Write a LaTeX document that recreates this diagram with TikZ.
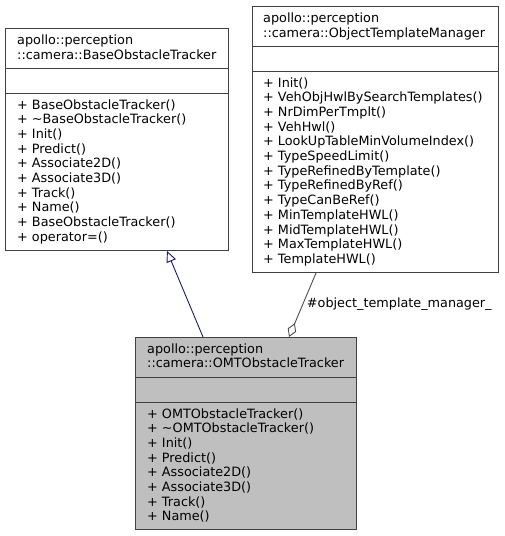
\documentclass[tikz,border=0pt]{standalone}
\usepackage{fontspec}
\setmainfont{DejaVu Sans}
\usetikzlibrary{arrows.meta}

\begin{document}
\begin{tikzpicture}[x=1pt, y=-1pt,
    umlbox/.style={draw=black!75, line width=1pt, anchor=north west, inner sep=0pt},
    members/.style={anchor=base west, align=left, inner sep=0pt,
        font=\fontsize{12.8}{14.7}\selectfont},
    inherit/.style={draw={rgb,255:red,25;green,25;blue,112}, line width=0.9pt,
        -{Triangle[open, length=11pt, width=10pt, fill=white]}},
    aggregate/.style={draw=black!70, line width=0.9pt,
        {Diamond[open, length=15pt, width=9pt, fill=white]}-}]
    \useasboundingbox (0,0) rectangle (504,536);
    % classes
    \node[umlbox, minimum width=223pt, minimum height=222pt] (base) at (5,28) {};
    \node[umlbox, minimum width=246pt, minimum height=266pt] (tpl) at (252,6) {};
    \node[umlbox, minimum width=221pt, minimum height=192pt, fill=black!25] (omt) at (135,337) {};
    \foreach \cls in {base, tpl, omt} {
        \draw[black!75, line width=1pt] ([yshift=-40pt]\cls.north west) -- ([yshift=-40pt]\cls.north east);
        \draw[black!75, line width=1pt] ([yshift=-65pt]\cls.north west) -- ([yshift=-65pt]\cls.north east);
    }
    % names (anchored at the last baseline)
    \node[members] (base name) at ([xshift=12pt, yshift=-31.2pt]base.north west)
        {apollo::perception\\::camera::BaseObstacleTracker};
    \node[members] (tpl name) at ([xshift=11pt, yshift=-31.2pt]tpl.north west)
        {apollo::perception\\::camera::ObjectTemplateManager};
    \node[members] (omt name) at ([xshift=12pt, yshift=-30.7pt]omt.north west)
        {apollo::perception\\::camera::OMTObstacleTracker};
    % methods
    \node[members] (base ops) at ([xshift=12pt, yshift=-213.3pt]base.north west)
        {+ BaseObstacleTracker()\\+ \textasciitilde BaseObstacleTracker()\\+ Init()\\+ Predict()\\
         + Associate2D()\\+ Associate3D()\\+ Track()\\+ Name()\\+ BaseObstacleTracker()\\+ operator=()};
    \node[members] (tpl ops) at ([xshift=11pt, yshift=-257.4pt]tpl.north west)
        {+ Init()\\+ VehObjHwlBySearchTemplates()\\+ NrDimPerTmplt()\\+ VehHwl()\\
         + LookUpTableMinVolumeIndex()\\+ TypeSpeedLimit()\\+ TypeRefinedByTemplate()\\
         + TypeRefinedByRef()\\+ TypeCanBeRef()\\+ MinTemplateHWL()\\+ MidTemplateHWL()\\
         + MaxTemplateHWL()\\+ TemplateHWL()};
    \node[members] (omt ops) at ([xshift=12pt, yshift=-183.9pt]omt.north west)
        {+ OMTObstacleTracker()\\+ \textasciitilde OMTObstacleTracker()\\+ Init()\\+ Predict()\\
         + Associate2D()\\+ Associate3D()\\+ Track()\\+ Name()};
    % relations
    \draw[inherit] ([xshift=68pt]omt.north west) -- ([xshift=162pt]base.south west);
    \draw[aggregate] ([xshift=154pt]omt.north west) -- ([xshift=64pt]tpl.south west)
        node[members, pos=0.5, xshift=4pt, yshift=-2pt] (role) {\#object\_template\_manager\_};
\end{tikzpicture}
\end{document}
